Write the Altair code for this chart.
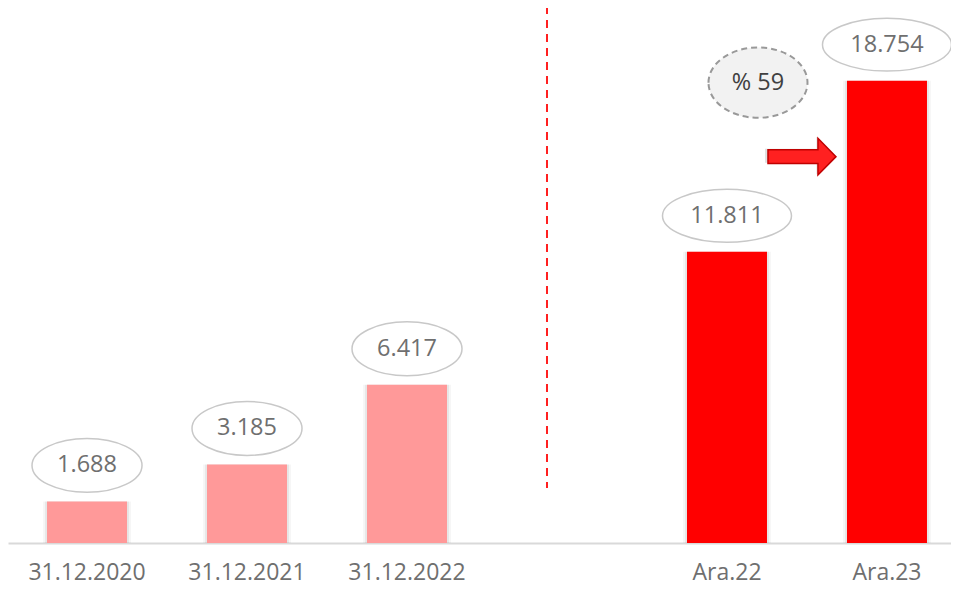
import altair as alt
import pandas as pd

categories = ["31.12.2020", "31.12.2021", "31.12.2022", " ", "Ara.22", "Ara.23"]
values = [1688, 3185, 6417, None, 11811, 18754]
labels = ["1.688", "3.185", "6.417", "", "11.811", "18.754"]
groups = ["past", "past", "past", "gap", "current", "current"]
growth_label = ["% 59"]

df = pd.DataFrame({"cat": categories, "value": values, "label": labels, "grp": groups})
bars_df = df[df["grp"] != "gap"].copy()
bars_df["wide"] = bars_df["label"].str.len() > 5

FONT = "Open Sans"
ELL_SMALL = "M -1 0 A 1 0.49 0 1 1 1 0 A 1 0.49 0 1 1 -1 0 Z"
ELL_WIDE = "M -1 0 A 1 0.41 0 1 1 1 0 A 1 0.41 0 1 1 -1 0 Z"
ELL_GROWTH = "M -1 0 A 1 0.71 0 1 1 1 0 A 1 0.71 0 1 1 -1 0 Z"
ARROW = ("M -1 -0.2 L 0.47 -0.2 L 0.47 -0.54 L 1 0 L 0.47 0.54 "
         "L 0.47 0.2 L -1 0.2 Z")

x_scale = alt.Scale(domain=categories, paddingInner=0.5, paddingOuter=0.197, align=0.619)
y_scale = alt.Scale(domain=[0, 21700], nice=False)

x_enc = alt.X("cat:N", scale=x_scale, sort=categories,
              axis=alt.Axis(title=None, labelAngle=0, ticks=False, domainColor="#d9d9d9",
                            domainWidth=2, labelFont=FONT, labelFontSize=23,
                            labelColor="#6f6f6f", labelPadding=36, labelAlign="center",
                            labelBaseline="alphabetic", grid=False))
x_plain = alt.X("cat:N", scale=x_scale, sort=categories)
y_enc = alt.Y("value:Q", scale=y_scale, axis=None)

base = alt.Chart(bars_df)

shadow1 = base.mark_bar(size=88, color="#000000", opacity=0.035).encode(x=x_plain, y=y_enc)
shadow2 = base.mark_bar(size=84, color="#000000", opacity=0.06).encode(x=x_plain, y=y_enc)

bars = base.mark_bar(size=80).encode(
    x=x_enc, y=y_enc,
    color=alt.Color("grp:N", scale=alt.Scale(domain=["past", "current"],
                                             range=["#ff9999", "#ff0000"]), legend=None),
)

ellipses = base.mark_point(fill="white", stroke="#c8c8c8", strokeWidth=1.5,
                           opacity=1, fillOpacity=1, yOffset=-36).encode(
    x=x_plain,
    y=y_enc,
    shape=alt.condition(alt.datum.wide, alt.value(ELL_WIDE), alt.value(ELL_SMALL)),
    size=alt.condition(alt.datum.wide, alt.value(129 * 129), alt.value(110 * 110)),
)

value_text = base.mark_text(font=FONT, fontSize=23.5, color="#6f6f6f", yOffset=-36,
                            baseline="middle").encode(
    x=x_plain,
    y=y_enc,
    text="label:N",
)

last = bars_df[bars_df["cat"] == "Ara.23"].copy()
last["growth"] = growth_label
last["prev"] = "Ara.22"

growth_ell = alt.Chart(last).mark_point(
    shape=ELL_GROWTH, size=99 * 99, fill="#f2f2f2", stroke="#999999", strokeWidth=2,
    strokeDash=[6, 4], opacity=1, fillOpacity=1, xOffset=31, yOffset=2).encode(
    x=alt.X("prev:N", scale=x_scale, sort=categories),
    y=y_enc,
)
growth_text = alt.Chart(last).mark_text(
    font=FONT, fontSize=23.5, color="#404040", xOffset=31, yOffset=2, baseline="middle").encode(
    x=alt.X("prev:N", scale=x_scale, sort=categories),
    y=y_enc,
    text="growth:N",
)

arrow_shadow = alt.Chart(last).mark_point(
    shape=ARROW, size=70 * 70, fill="#000000", fillOpacity=0.12, strokeOpacity=0,
    opacity=1, xOffset=-87, yOffset=75).encode(
    x=x_plain,
    y=y_enc,
)
arrow = alt.Chart(last).mark_point(
    shape=ARROW, size=68 * 68, fill="#ff2020", stroke="#c00000", strokeWidth=1.5,
    opacity=1, fillOpacity=1, xOffset=-85, yOffset=76).encode(
    x=x_plain,
    y=y_enc,
)

sep_df = pd.DataFrame({"cat": [" "]})
separator = alt.Chart(sep_df).mark_rule(color="#ff2020", strokeWidth=2,
                                        strokeDash=[8, 6]).encode(
    x=alt.X("cat:N", scale=x_scale, sort=categories, bandPosition=0.25),
    y=alt.value(-2),
    y2=alt.value(480),
)

chart = alt.layer(
    separator, shadow1, shadow2, bars, ellipses, value_text,
    growth_ell, growth_text, arrow_shadow, arrow
).properties(
    width=943, height=535, background="white",
    padding={"left": 0, "top": 0, "right": 0, "bottom": 42},
    autosize=alt.AutoSizeParams(type="none")
).configure_view(strokeWidth=0, stroke="transparent")

chart.save("out.html", embed_options={"renderer": "svg", "actions": False})
